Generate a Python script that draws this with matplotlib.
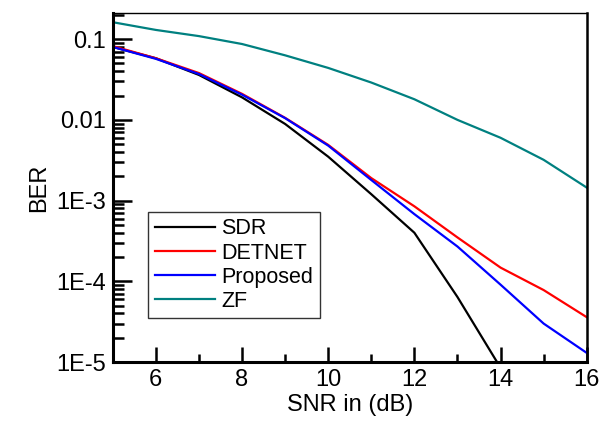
import numpy as np
import matplotlib.pyplot as plt
from matplotlib.ticker import FixedLocator, FixedFormatter, LogLocator, MultipleLocator

plt.rcParams['font.family'] = ['Liberation Sans', 'DejaVu Sans']

snr = [5, 6, 7, 8, 9, 10, 11, 12, 13, 14, 15, 16]
ber_sdr = [0.080, 0.058, 0.036, 0.019, 0.0089, 0.0035, 0.0012, 4.0e-4, 6.4e-5, 8.5e-6]
ber_detnet = [0.082, 0.058, 0.038, 0.0210, 0.0106, 0.0049, 0.0019, 8.5e-4, 3.5e-4, 1.48e-4, 7.8e-5, 3.6e-5]
ber_proposed = [0.080, 0.057, 0.037, 0.0205, 0.0105, 0.0048, 0.0018, 6.8e-4, 2.7e-4, 9.1e-5, 3.0e-5, 1.3e-5]
ber_zf = [0.162, 0.130, 0.109, 0.087, 0.063, 0.044, 0.029, 0.018, 0.010, 0.0060, 0.0032, 0.00145]

ytick_vals = [1e-5, 1e-4, 1e-3, 1e-2, 1e-1]
ytick_labels = ["1E-5", "1E-4", "1E-3", "0.01", "0.1"]

fig = plt.figure(figsize=(6.03, 4.23), dpi=100)
ax = fig.add_axes([0.187, 0.144, 0.786, 0.825])

ax.plot(snr[:len(ber_sdr)], ber_sdr, color="black", lw=1.6, label="SDR")
ax.plot(snr, ber_detnet, color="#ff0000", lw=1.6, label="DETNET")
ax.plot(snr, ber_proposed, color="#0000ff", lw=1.6, label="Proposed")
ax.plot(snr, ber_zf, color="#008080", lw=1.6, label="ZF")

ax.set_yscale("log")
ax.set_xlim(5, 16)
ax.set_ylim(1e-5, 0.21)

ax.xaxis.set_major_locator(MultipleLocator(2))
ax.xaxis.set_minor_locator(MultipleLocator(1))
ax.yaxis.set_major_locator(FixedLocator(ytick_vals))
ax.yaxis.set_major_formatter(FixedFormatter(ytick_labels))
ax.yaxis.set_minor_locator(LogLocator(base=10, subs=np.arange(2, 10)))
ax.yaxis.set_minor_formatter(plt.NullFormatter())

ax.tick_params(axis="x", which="major", direction="in", length=11, width=1.8, labelsize=17, pad=5)
ax.tick_params(axis="x", which="minor", direction="in", length=6, width=1.8)
ax.tick_params(axis="y", which="major", direction="in", length=14, width=1.8, labelsize=17, pad=5)
ax.tick_params(axis="y", which="minor", direction="in", length=8, width=1.8)

ax.spines["left"].set_linewidth(2.2)
ax.spines["bottom"].set_linewidth(2.2)
ax.spines["right"].set_linewidth(1.8)
ax.spines["top"].set_linewidth(1.0)

ax.set_xlabel("SNR in (dB)", fontsize=17, labelpad=2)
ax.set_ylabel("BER", fontsize=17, labelpad=4)

leg = ax.legend(loc="lower left", bbox_to_anchor=(0.075, 0.125), fontsize=15.5,
                frameon=True, fancybox=False, edgecolor="black", handlelength=2.8,
                handletextpad=0.3, borderpad=0.3, labelspacing=0.15, borderaxespad=0)
leg.get_frame().set_linewidth(1.0)

fig.savefig("out.png", dpi=100)
